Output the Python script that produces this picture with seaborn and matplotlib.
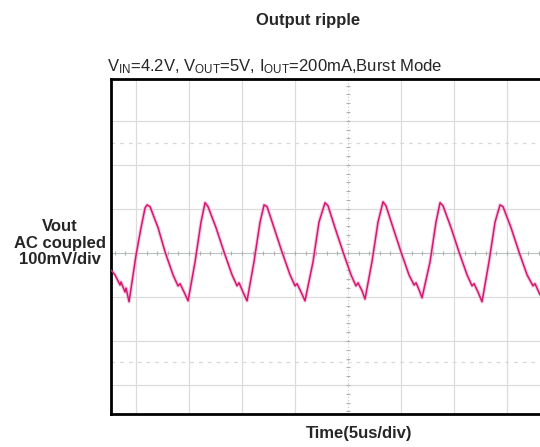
import numpy as np
import pandas as pd
import seaborn as sns
import matplotlib.pyplot as plt

# scope trace: time in us, ripple in mV
time_us = [-22.36, -21.98, -21.51, -21.42, -21.04, -20.94, -20.66,
           -20.00, -19.53, -19.15, -18.96, -18.68,
           -17.92, -17.26, -16.51, -16.04, -15.85, -15.47, -15.09,
           -14.43, -13.87, -13.49, -13.21,
           -12.45, -11.70, -10.94, -10.47, -10.28, -9.91, -9.53,
           -8.87, -8.30, -7.92, -7.64,
           -6.98, -6.23, -5.47, -5.00, -4.81, -4.43, -4.06,
           -3.30, -2.74, -2.17, -1.89,
           -1.23, -0.47, 0.28, 0.75, 0.94, 1.32, 1.60,
           2.26, 2.83, 3.30, 3.58,
           4.25, 5.00, 5.75, 6.23, 6.42, 6.70, 6.98,
           7.74, 8.30, 8.68, 8.96,
           9.72, 10.47, 11.23, 11.70, 11.89, 12.26, 12.64,
           13.30, 13.87, 14.34, 14.62,
           15.38, 16.13, 16.89, 17.45, 17.64, 18.11]
ripple_mv = [-39, -50, -73, -66, -89, -80, -111,
             -5, 57, 102, 109, 105,
             57, 2, -50, -75, -70, -89, -109,
             -20, 70, 114, 105,
             57, 2, -50, -75, -68, -89, -109,
             -20, 70, 109, 105,
             57, 2, -50, -75, -70, -89, -109,
             -20, 70, 114, 107,
             57, 2, -50, -75, -68, -86, -105,
             -20, 70, 116, 107,
             57, 2, -50, -73, -68, -84, -102,
             -20, 70, 114, 107,
             57, 2, -50, -75, -70, -89, -111,
             -20, 70, 109, 105,
             57, 2, -50, -75, -70, -95]

cursor_mv = [250, -248]

df = pd.DataFrame({"t": time_us, "v": ripple_mv})

sns.set_style("white")
plt.rcParams["font.family"] = ["Liberation Sans", "DejaVu Sans"]
plt.rcParams["mathtext.default"] = "regular"

fig = plt.figure(figsize=(5.4, 4.47), dpi=100)
ax = fig.add_axes([0.2056, 0.0738, 0.7944, 0.7495])

# scope graticule
for x in range(-20, 20, 5):
    if x != 0:
        ax.axvline(x, color="#dcdcdc", lw=0.9, zorder=0)
for y in range(-300, 400, 100):
    if y != 0:
        ax.axhline(y, color="#dcdcdc", lw=0.9, zorder=0)
for y in cursor_mv:
    ax.axhline(y, color="#d8d8d8", lw=0.9, ls=(0, (3, 4)), zorder=0)
ax.axhline(0, color="#b8c4c4", lw=0.8, zorder=0)
ax.axvline(0, color="#c8c8c8", lw=0.8, ls=(0, (1, 2)), zorder=0)
ticks_x = np.arange(-22, 19, 1.0)
ax.plot(ticks_x, np.zeros_like(ticks_x), ls="none", marker="|", ms=3,
        color="#b0b0b0", mew=0.8, zorder=0)
ticks_y = np.arange(-360, 400, 20)
ax.plot(np.zeros_like(ticks_y), ticks_y, ls="none", marker="_", ms=3,
        color="#b0b0b0", mew=0.8, zorder=0)

sns.lineplot(data=df, x="t", y="v", ax=ax, color="#f0a8c8", lw=2.6,
             alpha=0.6, zorder=2)
sns.lineplot(data=df, x="t", y="v", ax=ax, color="#d41872", lw=1.1, zorder=3)

ax.set_xlim(-22.36, 18.11)
ax.set_ylim(-366, 395)
ax.set_xticks([])
ax.set_yticks([])
for side in ["left", "top", "bottom"]:
    ax.spines[side].set_linewidth(2.0)
    ax.spines[side].set_color("black")
ax.spines["right"].set_visible(False)

ax.set_xlabel("")
ax.set_ylabel("")
fig.text(0.665, 0.031, "Time(5us/div)", ha="center", va="center",
         fontsize=12, fontweight="bold")
fig.text(0.111, 0.456, "Vout\nAC coupled\n100mV/div", ha="center", va="center",
         fontsize=12, fontweight="bold", linespacing=1.15)

fig.text(0.57, 0.955, "Output ripple", ha="center", va="center",
         fontsize=12, fontweight="bold")
fig.text(0.509, 0.852,
         r"V$_{IN}$=4.2V, V$_{OUT}$=5V, I$_{OUT}$=200mA,Burst Mode",
         ha="center", va="center", fontsize=12)

fig.savefig("out.png", dpi=100)
